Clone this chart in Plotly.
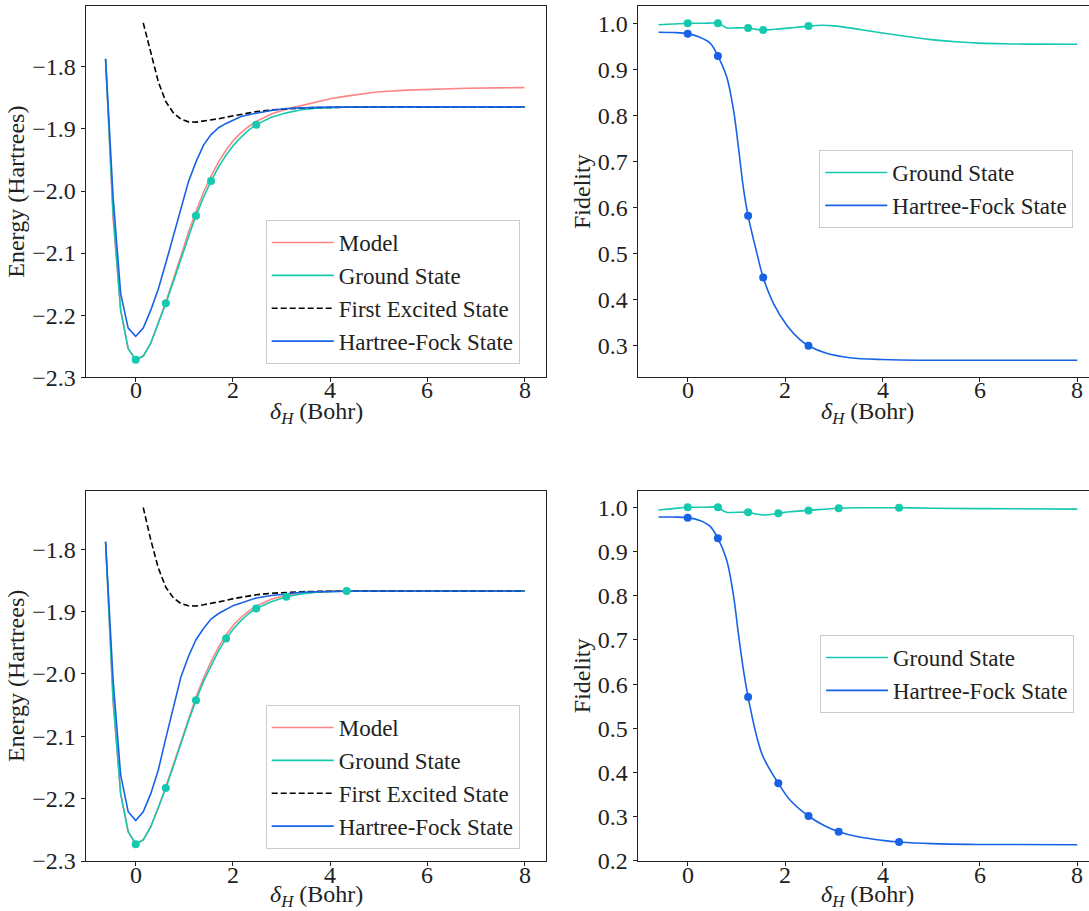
import plotly.graph_objects as go

# ---------------- data ----------------
# x grid (Bohr) for the energy curves
X_E = [-0.62, -0.465, -0.31, -0.155, 0.0, 0.155, 0.31, 0.465, 0.62, 0.775, 0.93,
       1.085, 1.24, 1.395, 1.55, 1.705, 1.86, 2.015, 2.17, 2.325, 2.48, 2.79,
       3.1, 3.41, 3.72, 4.03, 4.34, 4.96, 5.58, 6.2, 6.82, 7.44, 8.0]

# ---- top-left panel (energies, Hartree)
MODEL_E1 = [-1.787, -2.045, -2.192, -2.254, -2.272, -2.266, -2.245, -2.213, -2.179, -2.142, -2.104,
            -2.067, -2.033, -2.002, -1.976, -1.953, -1.934, -1.918, -1.906, -1.896, -1.888, -1.876,
            -1.868, -1.8625, -1.856, -1.851, -1.847, -1.8405, -1.8373, -1.8355, -1.8343, -1.8337, -1.8333]
GS_E1 = [-1.787, -2.035, -2.192, -2.254, -2.272, -2.266, -2.245, -2.214, -2.181, -2.146, -2.109,
         -2.074, -2.040, -2.010, -1.984, -1.961, -1.942, -1.926, -1.913, -1.902, -1.893, -1.881,
         -1.874, -1.869, -1.8665, -1.8655, -1.865, -1.8645, -1.8644, -1.8644, -1.8644, -1.8644, -1.8644]
HF_E1 = [-1.787, -2.010, -2.165, -2.221, -2.234, -2.221, -2.192, -2.158, -2.116, -2.073, -2.028,
         -1.985, -1.953, -1.926, -1.909, -1.898, -1.891, -1.885, -1.880, -1.877, -1.8745, -1.870,
         -1.8670, -1.8658, -1.8652, -1.8648, -1.8646, -1.8644, -1.8644, -1.8644, -1.8644, -1.8644, -1.8644]
X_EX = X_E[5:]
EX_E1 = [-1.729, -1.778, -1.824, -1.856, -1.874, -1.884,
         -1.8885, -1.889, -1.8875, -1.886, -1.8835, -1.881, -1.8785, -1.876, -1.8738, -1.872, -1.8693,
         -1.8675, -1.8662, -1.8655, -1.8650, -1.8648, -1.8645, -1.8644, -1.8644, -1.8644, -1.8644, -1.8644]
X_MK1 = [0.0, 0.62, 1.24, 1.55, 2.48]
GS_MK_E1 = [-2.272, -2.181, -2.040, -1.984, -1.893]

# ---- bottom-left panel (energies, Hartree)
MODEL_E2 = [-1.788, -2.045, -2.192, -2.253, -2.273, -2.266, -2.245, -2.215, -2.181, -2.145, -2.106,
            -2.071, -2.037, -2.007, -1.980, -1.957, -1.937, -1.921, -1.909, -1.899, -1.891, -1.880,
            -1.8735, -1.870, -1.868, -1.867, -1.8667, -1.8665, -1.8665, -1.8665, -1.8665, -1.8665, -1.8665]
GS_E2 = [-1.788, -2.040, -2.192, -2.253, -2.273, -2.266, -2.245, -2.215, -2.183, -2.148, -2.111,
         -2.076, -2.042, -2.012, -1.987, -1.963, -1.943, -1.927, -1.914, -1.903, -1.895, -1.884,
         -1.876, -1.8715, -1.869, -1.868, -1.867, -1.867, -1.867, -1.867, -1.867, -1.867, -1.867]
HF_E2 = [-1.788, -2.010, -2.162, -2.221, -2.235, -2.221, -2.192, -2.154, -2.103, -2.055, -2.005,
         -1.972, -1.945, -1.927, -1.912, -1.903, -1.896, -1.890, -1.886, -1.882, -1.878, -1.874,
         -1.871, -1.869, -1.868, -1.8675, -1.8672, -1.867, -1.867, -1.867, -1.867, -1.867, -1.867]
EX_E2 = [-1.733, -1.785, -1.830, -1.861, -1.878, -1.887,
         -1.8905, -1.891, -1.889, -1.887, -1.885, -1.882, -1.879, -1.877, -1.875, -1.873, -1.8705,
         -1.869, -1.868, -1.8675, -1.8672, -1.867, -1.867, -1.867, -1.867, -1.867, -1.867, -1.867]
X_MK2 = [0.0, 0.62, 1.24, 1.86, 2.48, 3.1, 4.34]
GS_MK_E2 = [-2.273, -2.183, -2.042, -1.943, -1.895, -1.876, -1.867]

# ---- top-right panel (fidelity)
X_GSF1 = [-0.6, -0.3, 0.0, 0.31, 0.62, 0.7, 0.8, 1.0, 1.24, 1.4, 1.55, 1.8, 2.1, 2.48, 2.75,
          3.0, 3.4, 3.7, 4.0, 4.4, 5.0, 5.5, 6.0, 6.5, 7.0, 8.0]
GS_F1 = [0.997, 0.9985, 1.000, 1.000, 1.000, 0.996, 0.990, 0.990, 0.990, 0.987, 0.9855, 0.987,
         0.990, 0.994, 0.9957, 0.9945, 0.989, 0.984, 0.979, 0.973, 0.9645, 0.960, 0.957, 0.9555,
         0.9548, 0.9544]
X_HFF1 = [-0.6, -0.3, 0.0, 0.25, 0.46, 0.62, 0.8, 0.94, 1.04, 1.14, 1.24, 1.42, 1.55, 1.76,
          2.03, 2.31, 2.48, 2.85, 3.33, 4.0, 5.0, 8.0]
HF_F1 = [0.9805, 0.980, 0.9776, 0.9696, 0.957, 0.929, 0.884, 0.812, 0.732, 0.645, 0.582, 0.501,
         0.448, 0.392, 0.345, 0.3125, 0.300, 0.2835, 0.274, 0.270, 0.2684, 0.2684]
GS_MK_F1 = [1.000, 1.000, 0.990, 0.9855, 0.994]
HF_MK_F1 = [0.9776, 0.929, 0.582, 0.448, 0.300]

# ---- bottom-right panel (fidelity)
X_GSF2 = [-0.6, -0.3, 0.0, 0.31, 0.62, 0.7, 0.8, 1.0, 1.24, 1.4, 1.55, 1.86, 2.1, 2.48, 3.1,
          3.6, 4.34, 5.0, 6.0, 8.0]
GS_F2 = [0.994, 0.997, 1.000, 1.000, 1.000, 0.994, 0.9887, 0.9887, 0.9887, 0.985, 0.9826, 0.9864,
         0.990, 0.993, 0.998, 0.999, 0.999, 0.998, 0.997, 0.996]
X_HFF2 = [-0.6, -0.3, 0.0, 0.25, 0.46, 0.62, 0.8, 0.94, 1.04, 1.14, 1.24, 1.42, 1.55, 1.86,
          2.1, 2.48, 2.8, 3.1, 3.5, 4.0, 4.34, 5.0, 6.0, 8.0]
HF_F2 = [0.978, 0.978, 0.9766, 0.970, 0.957, 0.930, 0.881, 0.80, 0.715, 0.635, 0.571, 0.48,
         0.435, 0.3756, 0.338, 0.3016, 0.280, 0.266, 0.2545, 0.2465, 0.2428, 0.239, 0.2372, 0.2367]
GS_MK_F2 = [1.000, 1.000, 0.9887, 0.9864, 0.993, 0.998, 0.999]
HF_MK_F2 = [0.9766, 0.930, 0.571, 0.3756, 0.3016, 0.266, 0.2428]

# tick values / labels
X_TICKS = [0, 2, 4, 6, 8]
E_TICKS = [-2.3, -2.2, -2.1, -2.0, -1.9, -1.8]
F_TICKS1 = [0.3, 0.4, 0.5, 0.6, 0.7, 0.8, 0.9, 1.0]
F_TICKS2 = [0.2, 0.3, 0.4, 0.5, 0.6, 0.7, 0.8, 0.9, 1.0]

# ---------------- styles ----------------
PINK = "#FF8585"
TEAL = "#14C9AE"
BLUE = "#1862E6"
FONT = "Liberation Serif"
INK = "#222222"
W, H = 1089, 911

fig = go.Figure()


def add_line(x, y, color, name, xa, ya, legend, dash=None, show=True, shape="linear"):
    fig.add_trace(go.Scatter(
        x=x, y=y, mode="lines", name=name, xaxis=xa, yaxis=ya, legend=legend,
        line=dict(color=color, width=1.6, dash=dash, shape=shape), showlegend=show,
        hoverinfo="x+y"))


def add_markers(x, y, color, xa, ya, name):
    fig.add_trace(go.Scatter(
        x=x, y=y, mode="markers", xaxis=xa, yaxis=ya, showlegend=False, name=name,
        marker=dict(color=color, size=8, line=dict(width=0))))


# top-left
add_line(X_E, MODEL_E1, PINK, "Model", "x", "y", "legend")
add_line(X_E, GS_E1, TEAL, "Ground State", "x", "y", "legend")
add_line(X_EX, EX_E1, "black", "First Excited State", "x", "y", "legend", dash="6px,3px")
add_line(X_E, HF_E1, BLUE, "Hartree-Fock State", "x", "y", "legend")
add_markers(X_MK1, GS_MK_E1, TEAL, "x", "y", "Ground State")

# top-right
add_line(X_GSF1, GS_F1, TEAL, "Ground State", "x2", "y2", "legend2", shape="spline")
add_line(X_HFF1, HF_F1, BLUE, "Hartree-Fock State", "x2", "y2", "legend2", shape="spline")
add_markers(X_MK1, GS_MK_F1, TEAL, "x2", "y2", "Ground State")
add_markers(X_MK1, HF_MK_F1, BLUE, "x2", "y2", "Hartree-Fock State")

# bottom-left
add_line(X_E, MODEL_E2, PINK, "Model", "x3", "y3", "legend3")
add_line(X_E, GS_E2, TEAL, "Ground State", "x3", "y3", "legend3")
add_line(X_EX, EX_E2, "black", "First Excited State", "x3", "y3", "legend3", dash="6px,3px")
add_line(X_E, HF_E2, BLUE, "Hartree-Fock State", "x3", "y3", "legend3")
add_markers(X_MK2, GS_MK_E2, TEAL, "x3", "y3", "Ground State")

# bottom-right
add_line(X_GSF2, GS_F2, TEAL, "Ground State", "x4", "y4", "legend4", shape="spline")
add_line(X_HFF2, HF_F2, BLUE, "Hartree-Fock State", "x4", "y4", "legend4", shape="spline")
add_markers(X_MK2, GS_MK_F2, TEAL, "x4", "y4", "Ground State")
add_markers(X_MK2, HF_MK_F2, BLUE, "x4", "y4", "Hartree-Fock State")

XTITLE = "<i>δ</i><sub><i>H</i></sub> (Bohr)"
axis_common = dict(showline=True, linecolor=INK, linewidth=1.3, ticks="outside",
                   ticklen=4, tickwidth=1, tickcolor=INK, showgrid=False, zeroline=False,
                   automargin=False,
                   tickfont=dict(family=FONT, size=24, color=INK))


def xaxis(domain, rng, anchor, mirror):
    d = dict(axis_common)
    # x tick labels are drawn as annotations (below) to sit as close to the axis as in the original
    d.update(domain=domain, range=rng, anchor=anchor, mirror=mirror,
             tickvals=X_TICKS, showticklabels=False)
    return d


def yaxis(domain, rng, anchor, mirror, tickvals, title, standoff):
    d = dict(axis_common)
    d.update(domain=domain, range=rng, anchor=anchor, mirror=mirror, tickvals=tickvals,
             tickformat=".1f",
             title=dict(text=title, font=dict(family=FONT, size=24, color=INK),
                        standoff=standoff))
    return d


XL = [85.7 / W, 546 / W]
XR = [637.7 / W, 1.0]
YT = [1 - 377.3 / H, 1 - 6 / H]
YB = [1 - 861 / H, 1 - 490.7 / H]

legend_common = dict(bgcolor="rgba(255,255,255,0.8)", bordercolor="#CCCCCC", borderwidth=1,
                     font=dict(family=FONT, size=23, color=INK), xanchor="left",
                     yanchor="top", itemwidth=62, traceorder="normal")

annotations = []
# x tick labels
for xref, ypx in (("x", 390), ("x2", 390), ("x3", 875), ("x4", 875)):
    for v in X_TICKS:
        annotations.append(dict(text=str(v), x=v, xref=xref, y=1 - ypx / H, yref="paper",
                                showarrow=False, xanchor="center", yanchor="middle",
                                font=dict(family=FONT, size=24, color=INK)))
# x-axis titles
xt = dict(text=XTITLE, xref="paper", yref="paper", showarrow=False,
          font=dict(family=FONT, size=24, color=INK), xanchor="center", yanchor="middle")
annotations += [
    dict(xt, x=316 / W, y=1 - 413 / H),
    dict(xt, x=867 / W, y=1 - 413 / H),
    dict(xt, x=316 / W, y=1 - 896 / H),
    dict(xt, x=867 / W, y=1 - 896 / H),
]

fig.update_layout(
    width=W, height=H, margin=dict(l=0, r=0, t=0, b=0, autoexpand=False),
    paper_bgcolor="white", plot_bgcolor="white",
    font=dict(family=FONT, size=23, color=INK),
    xaxis=xaxis(XL, [-1.029, 8.442], "y", True),
    yaxis=yaxis(YT, [-2.3002, -1.7018], "x", True, E_TICKS, "Energy (Hartrees)", 0),
    xaxis2=xaxis(XR, [-1.027, 8.240], "y2", True),
    yaxis2=yaxis(YT, [0.2314, 1.0376], "x2", False, F_TICKS1, "Fidelity", 0),
    xaxis3=xaxis(XL, [-1.029, 8.442], "y3", True),
    yaxis3=yaxis(YB, [-2.300, -1.706], "x3", True, E_TICKS, "Energy (Hartrees)", 0),
    xaxis4=xaxis(XR, [-1.027, 8.240], "y4", True),
    yaxis4=yaxis(YB, [0.1998, 1.0376], "x4", False, F_TICKS2, "Fidelity", 0),
    legend=dict(legend_common, x=265.7 / W, y=1 - 220 / H),
    legend2=dict(legend_common, x=819.3 / W, y=1 - 150 / H),
    legend3=dict(legend_common, x=265.7 / W, y=1 - 705 / H),
    legend4=dict(legend_common, x=820 / W, y=1 - 635 / H),
    annotations=annotations,
    showlegend=True,
)

fig.write_html("out.html", config={"displayModeBar": False},
               post_script="document.body.style.margin='0px';document.body.style.overflow='hidden';")
